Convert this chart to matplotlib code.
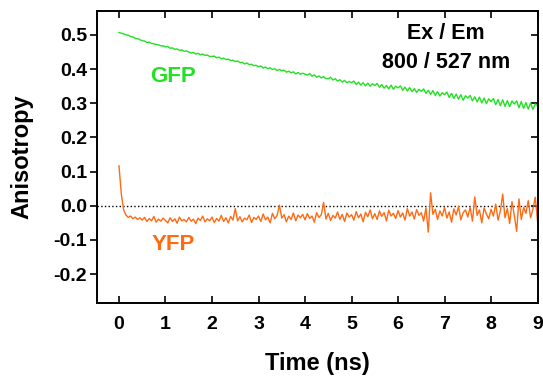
import numpy as np
import matplotlib
matplotlib.use('Agg')
import matplotlib.pyplot as plt

plt.rcParams['font.family'] = ['Liberation Sans', 'DejaVu Sans']
plt.rcParams['font.weight'] = 'bold'

# time grid (ns), one sample every 0.05 ns
time_ns = np.linspace(0, 9, 181)

# values
gfp = [0.507, 0.505, 0.503, 0.500, 0.499, 0.495, 0.494, 0.490, 0.489, 0.486,
       0.483, 0.482, 0.478, 0.479, 0.475, 0.474, 0.472, 0.471, 0.468, 0.468,
       0.465, 0.466, 0.461, 0.462, 0.458, 0.459, 0.455, 0.456, 0.452, 0.453,
       0.450, 0.447, 0.449, 0.444, 0.446, 0.442, 0.444, 0.440, 0.441, 0.437,
       0.437, 0.438, 0.433, 0.435, 0.430, 0.432, 0.428, 0.429, 0.425, 0.426,
       0.422, 0.424, 0.419, 0.420, 0.415, 0.418, 0.413, 0.414, 0.410, 0.411,
       0.407, 0.409, 0.403, 0.406, 0.401, 0.404, 0.399, 0.401, 0.396, 0.399,
       0.395, 0.397, 0.391, 0.394, 0.389, 0.392, 0.386, 0.390, 0.385, 0.388,
       0.385, 0.382, 0.387, 0.379, 0.383, 0.376, 0.380, 0.374, 0.378, 0.372,
       0.372, 0.376, 0.368, 0.372, 0.365, 0.369, 0.362, 0.367, 0.360, 0.364,
       0.360, 0.365, 0.355, 0.362, 0.353, 0.360, 0.351, 0.359, 0.350, 0.357,
       0.352, 0.358, 0.347, 0.355, 0.344, 0.352, 0.342, 0.353, 0.341, 0.350,
       0.345, 0.351, 0.338, 0.347, 0.336, 0.346, 0.334, 0.343, 0.332, 0.341,
       0.335, 0.342, 0.329, 0.338, 0.326, 0.337, 0.323, 0.334, 0.321, 0.331,
       0.325, 0.333, 0.317, 0.329, 0.314, 0.327, 0.312, 0.325, 0.309, 0.322,
       0.315, 0.323, 0.307, 0.319, 0.304, 0.318, 0.301, 0.315, 0.299, 0.313,
       0.305, 0.314, 0.296, 0.311, 0.293, 0.310, 0.291, 0.308, 0.290, 0.307,
       0.298, 0.307, 0.287, 0.305, 0.285, 0.302, 0.283, 0.301, 0.282, 0.298,
       0.292]

yfp = [0.117, 0.035, -0.012, -0.027, -0.034, -0.030, -0.038, -0.033, -0.040, -0.035,
       -0.042, -0.034, -0.046, -0.037, -0.044, -0.031, -0.048, -0.039, -0.045, -0.036,
       -0.043, -0.050, -0.035, -0.046, -0.038, -0.051, -0.033, -0.044, -0.040, -0.047,
       -0.034, -0.045, -0.039, -0.052, -0.036, -0.043, -0.030, -0.047, -0.038, -0.044,
       -0.033, -0.049, -0.037, -0.045, -0.028, -0.046, -0.035, -0.050, -0.031, -0.042,
       -0.008, -0.044, -0.032, -0.047, -0.036, -0.041, -0.027, -0.049, -0.034, -0.040,
       -0.030, -0.046, -0.024, -0.041, -0.033, -0.050, -0.022, -0.038, -0.028, 0.002,
       -0.036, -0.026, -0.047, -0.030, -0.040, -0.021, -0.044, -0.027, -0.035, -0.025,
       -0.041, -0.023, -0.037, -0.030, -0.048, -0.020, -0.034, -0.026, 0.010, -0.039,
       -0.022, -0.043, -0.028, -0.036, -0.018, -0.040, -0.025, -0.046, -0.021, -0.033,
       -0.026, -0.042, -0.017, -0.035, -0.024, -0.047, -0.019, -0.032, -0.012, -0.038,
       -0.023, -0.040, -0.015, -0.031, -0.020, -0.044, -0.013, -0.030, -0.022, -0.037,
       -0.014, -0.033, -0.021, -0.042, -0.008, -0.030, -0.018, -0.039, -0.011, -0.028,
       -0.020, -0.045, -0.006, -0.077, 0.038, -0.025, -0.010, -0.040, -0.015, -0.030,
       -0.005, -0.036, -0.018, -0.048, -0.009, -0.027, -0.002, -0.041, -0.020, -0.012,
       -0.033, -0.004, -0.045, 0.026, -0.028, -0.012, -0.050, -0.006, -0.024, -0.038,
       -0.010, -0.030, 0.005, -0.042, -0.015, 0.034, -0.035, -0.008, -0.052, 0.012,
       -0.028, -0.075, 0.020, -0.040, -0.005, -0.022, 0.015, -0.035, -0.010, 0.025,
       -0.046]

xticks = [0, 1, 2, 3, 4, 5, 6, 7, 8, 9]
yticks = [-0.2, -0.1, 0.0, 0.1, 0.2, 0.3, 0.4, 0.5]

green = '#22e022'
orange = '#ff6a13'

fig = plt.figure(figsize=(5.43, 3.79), dpi=100)
ax = fig.add_axes([0.178, 0.2, 0.812, 0.771])

ax.axhline(0, color='black', linestyle=':', linewidth=1.0, zorder=1)
ax.plot(time_ns, gfp, color=green, linewidth=1.0, zorder=2)
ax.plot(time_ns, yfp, color=orange, linewidth=1.0, zorder=2)

ax.set_xlim(-0.48, 9)
ax.set_ylim(-0.285, 0.57)
ax.set_xticks(xticks)
ax.set_yticks(yticks)
ax.set_yticklabels(['%.1f' % v for v in yticks])

for s in ax.spines.values():
    s.set_linewidth(1.4)

ax.tick_params(axis='x', direction='in', top=True, length=5, width=1.2,
               labelsize=14, pad=9)
ax.tick_params(axis='y', which='both', direction='out', length=5, width=1.2,
               labelsize=14, pad=2)
ax.tick_params(axis='y', right=True)
# right-hand ticks point inward
for t in ax.yaxis.get_major_ticks():
    t.tick2line.set_marker(matplotlib.lines.TICKLEFT)

ax.set_xlabel('Time (ns)', fontsize=17, fontweight='bold', labelpad=14)
ax.set_ylabel('Anisotropy', fontsize=17, fontweight='bold', labelpad=14)

ax.text(1.17, 0.377, 'GFP', color=green, fontsize=16, fontweight='bold',
        ha='center', va='center')
ax.text(1.17, -0.114, 'YFP', color=orange, fontsize=16, fontweight='bold',
        ha='center', va='center')
ax.text(7.03, 0.505, 'Ex / Em', fontsize=15.5, fontweight='bold',
        ha='center', va='center')
ax.text(7.03, 0.42, '800 / 527 nm', fontsize=15.5, fontweight='bold',
        ha='center', va='center')

fig.savefig('out.png', dpi=100)
